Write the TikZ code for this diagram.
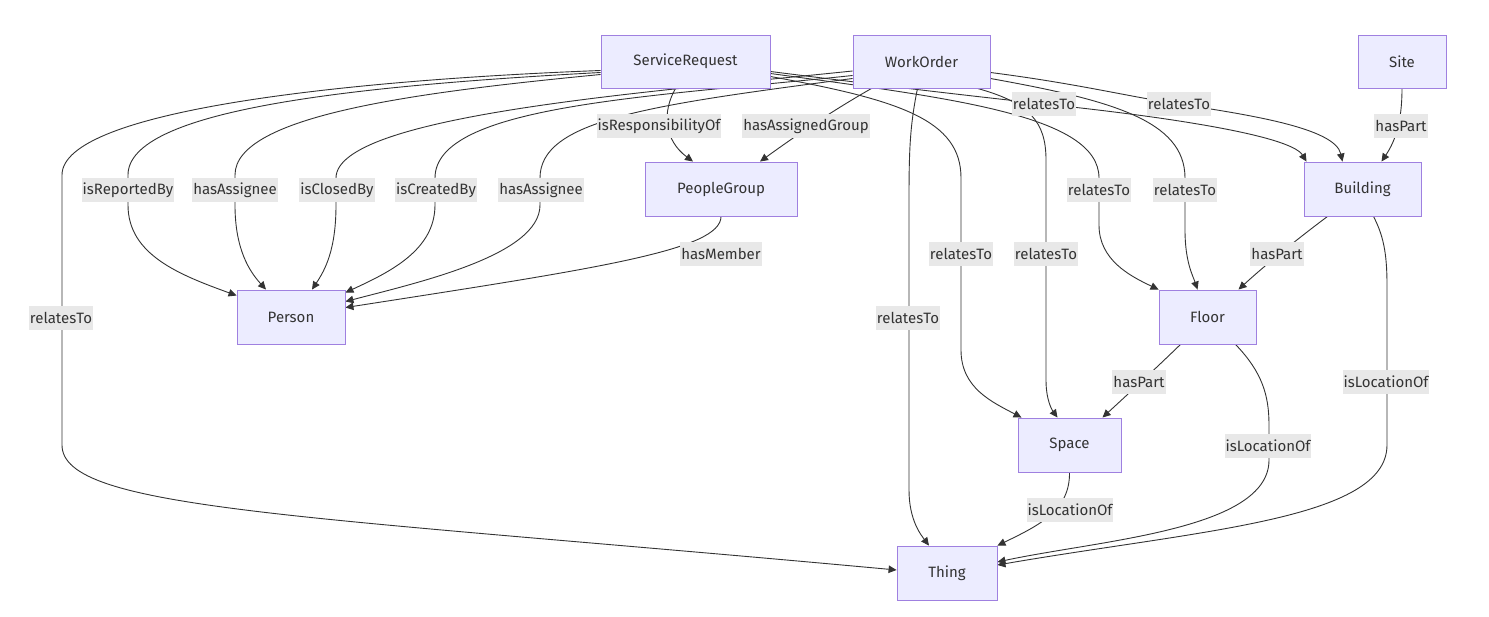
\documentclass[tikz,border=0pt]{standalone}
\usepackage{fontspec}
\setmainfont{Fira Sans}
\usetikzlibrary{arrows.meta,backgrounds}
\definecolor{nodefill}{HTML}{ECECFF}
\definecolor{nodeline}{HTML}{9F80E0}
\definecolor{ink}{HTML}{333333}
\definecolor{lblbg}{HTML}{E8E8E8}
\tikzset{
  box/.style={draw=nodeline, fill=nodefill, line width=0.9pt, text=ink,
    font=\fontsize{15}{18}\selectfont, inner sep=0pt, minimum height=53pt},
  lbl/.style={fill=lblbg, text=ink, font=\fontsize{15}{18}\selectfont,
    inner xsep=1pt, inner ysep=0pt, minimum height=24pt},
  edge/.style={draw=ink, line width=0.9pt, -{Triangle[length=8pt,width=7.5pt]}}
}
\begin{document}
\begin{tikzpicture}[x=1pt,y=-1pt]
\useasboundingbox (0,0) rectangle (1489,617);
% nodes
\node[box, minimum width=169pt] (SR) at (685.5,61.5) {ServiceRequest};
\node[box, minimum width=137pt] (WO) at (921.5,61.5) {WorkOrder};
\node[box, minimum width=88pt] (Site) at (1402,61.5) {Site};
\node[box, minimum width=152pt, minimum height=54pt] (PG) at (721,189) {PeopleGroup};
\node[box, minimum width=117pt, minimum height=54pt] (Building) at (1362.5,189) {Building};
\node[box, minimum width=108pt, minimum height=54pt] (Person) at (291,317) {Person};
\node[box, minimum width=97pt, minimum height=54pt] (Floor) at (1207.5,317) {Floor};
\node[box, minimum width=103pt, minimum height=54pt] (Space) at (1069.5,445) {Space};
\node[box, minimum width=100pt, minimum height=54pt] (Thing) at (947,573) {Thing};
% edge labels
\node[lbl] (l1) at (61,318) {relatesTo};
\node[lbl] (l2) at (128,190) {isReportedBy};
\node[lbl] (l3) at (235,190) {hasAssignee};
\node[lbl] (l4) at (337,190) {isClosedBy};
\node[lbl] (l5) at (436,190) {isCreatedBy};
\node[lbl] (l6) at (541,190) {hasAssignee};
\node[lbl] (l7) at (659,126) {isResponsibilityOf};
\node[lbl] (l8) at (806,126) {hasAssignedGroup};
\node[lbl] (l9) at (721,254) {hasMember};
\node[lbl] (r1) at (1044,104) {relatesTo};
\node[lbl] (r2) at (1179,104) {relatesTo};
\node[lbl] (l10) at (1401,126) {hasPart};
\node[lbl] (r3) at (1099,190) {relatesTo};
\node[lbl] (r4) at (1185,190) {relatesTo};
\node[lbl] (l11) at (1277,254) {hasPart};
\node[lbl] (r5) at (961,254) {relatesTo};
\node[lbl] (r6) at (1046,254) {relatesTo};
\node[lbl] (r7) at (908,318) {relatesTo};
\node[lbl] (l12) at (1139,382) {hasPart};
\node[lbl] (l13) at (1386,382) {isLocationOf};
\node[lbl] (l14) at (1268,446) {isLocationOf};
\node[lbl] (l15) at (1070,510) {isLocationOf};
% edges
\begin{scope}[on background layer]
\draw[edge] ([yshift=-9pt]SR.west) .. controls (350,80) and (62,110) .. (62,175) -- (62,445) .. controls (62,510) and (300,515) .. ([yshift=3pt]Thing.west);
\draw[edge] ([yshift=-11pt]SR.west) .. controls (350,86) and (128,110) .. (128,175) -- (128,205) .. controls (128,255) and (180,275) .. ([yshift=-6pt]Person.north west);
\draw[edge] ([yshift=-13pt]SR.west) .. controls (420,92) and (235,115) .. (235,175) -- (235,205) .. controls (235,250) and (250,272) .. ([xshift=-25pt]Person.north);
\draw[edge] ([yshift=-9.5pt]WO.west) .. controls (650,92) and (336,115) .. (336,178) -- (336,205) .. controls (336,250) and (325,270) .. ([xshift=21pt]Person.north);
\draw[edge] ([yshift=-14pt]WO.west) .. controls (650,97) and (435,105) .. (435,178) -- (435,205) .. controls (435,250) and (390,272) .. ([yshift=-3pt]Person.north east);
\draw[edge] ([yshift=-17pt]WO.west) .. controls (650,105) and (540,120) .. (540,178) -- (540,205) .. controls (540,255) and (420,282) .. ([yshift=-12pt]Person.north east);
\draw[edge] ([xshift=-10pt]SR.south) .. controls (662,112) and (664,140) .. ([xshift=-28pt]PG.north);
\draw[edge] ([xshift=-50pt]WO.south) .. controls (825,115) and (790,140) .. ([xshift=39pt]PG.north);
\draw[edge] (PG.south) .. controls (721,250) and (600,268) .. ([yshift=-18pt]Person.north east);
\draw[edge] ([xshift=-4pt]WO.south) .. controls (910,125) and (909,150) .. (909,200) -- (909,490) .. controls (909,520) and (921,535) .. ([xshift=-18pt]Thing.north);
\draw[edge] ([yshift=-15pt]SR.east) .. controls (900,100) and (961,120) .. (961,178) -- (961,350) .. controls (961,388) and (992,402) .. ([xshift=-48pt]Space.north);
\draw[edge] ([yshift=-12pt]SR.east) .. controls (950,98) and (1099,115) .. (1099,178) -- (1099,225) .. controls (1099,260) and (1130,276) .. (Floor.north west);
\draw[edge] ([yshift=-10pt]SR.east) .. controls (900,88) and (990,98) .. (r1.center) .. controls (1160,116) and (1290,135) .. ([xshift=3pt]Building.north west);
\draw[edge] ([yshift=-11pt]WO.east) .. controls (1080,84) and (1130,97) .. (r2.center) .. controls (1250,115) and (1335,128) .. ([xshift=-20pt]Building.north);
\draw[edge] ([yshift=-17pt]WO.east) .. controls (1110,100) and (1185,120) .. (1185,178) -- (1185,230) .. controls (1185,262) and (1193,276) .. ([xshift=-10pt]Floor.north);
\draw[edge] ([xshift=-13pt]WO.south east) .. controls (1030,103) and (1046,122) .. (1046,160) -- (1046,380) .. controls (1046,400) and (1052,410) .. ([xshift=-12pt]Space.north);
\draw[edge] (Site.south) .. controls (1402,120) and (1396,140) .. ([xshift=19pt]Building.north);
\draw[edge] ([xshift=-35pt]Building.south) .. controls (1292,243) and (1262,268) .. ([xshift=31pt]Floor.north);
\draw[edge] ([xshift=-27pt]Floor.south) .. controls (1152,372) and (1127,395) .. ([xshift=33pt]Space.north);
\draw[edge] ([xshift=11pt]Building.south) .. controls (1383,235) and (1387,252) .. (1387,285) -- (1387,445) .. controls (1387,520) and (1200,530) .. ([yshift=8pt]Thing.east);
\draw[edge] ([xshift=28pt]Floor.south) .. controls (1262,372) and (1269,395) .. (1269,425) -- (1269,460) .. controls (1269,530) and (1100,540) .. ([yshift=11pt]Thing.east);
\draw[edge] (Space.south) .. controls (1070,510) and (1040,525) .. (Thing.north east);
\end{scope}
\end{tikzpicture}
\end{document}
